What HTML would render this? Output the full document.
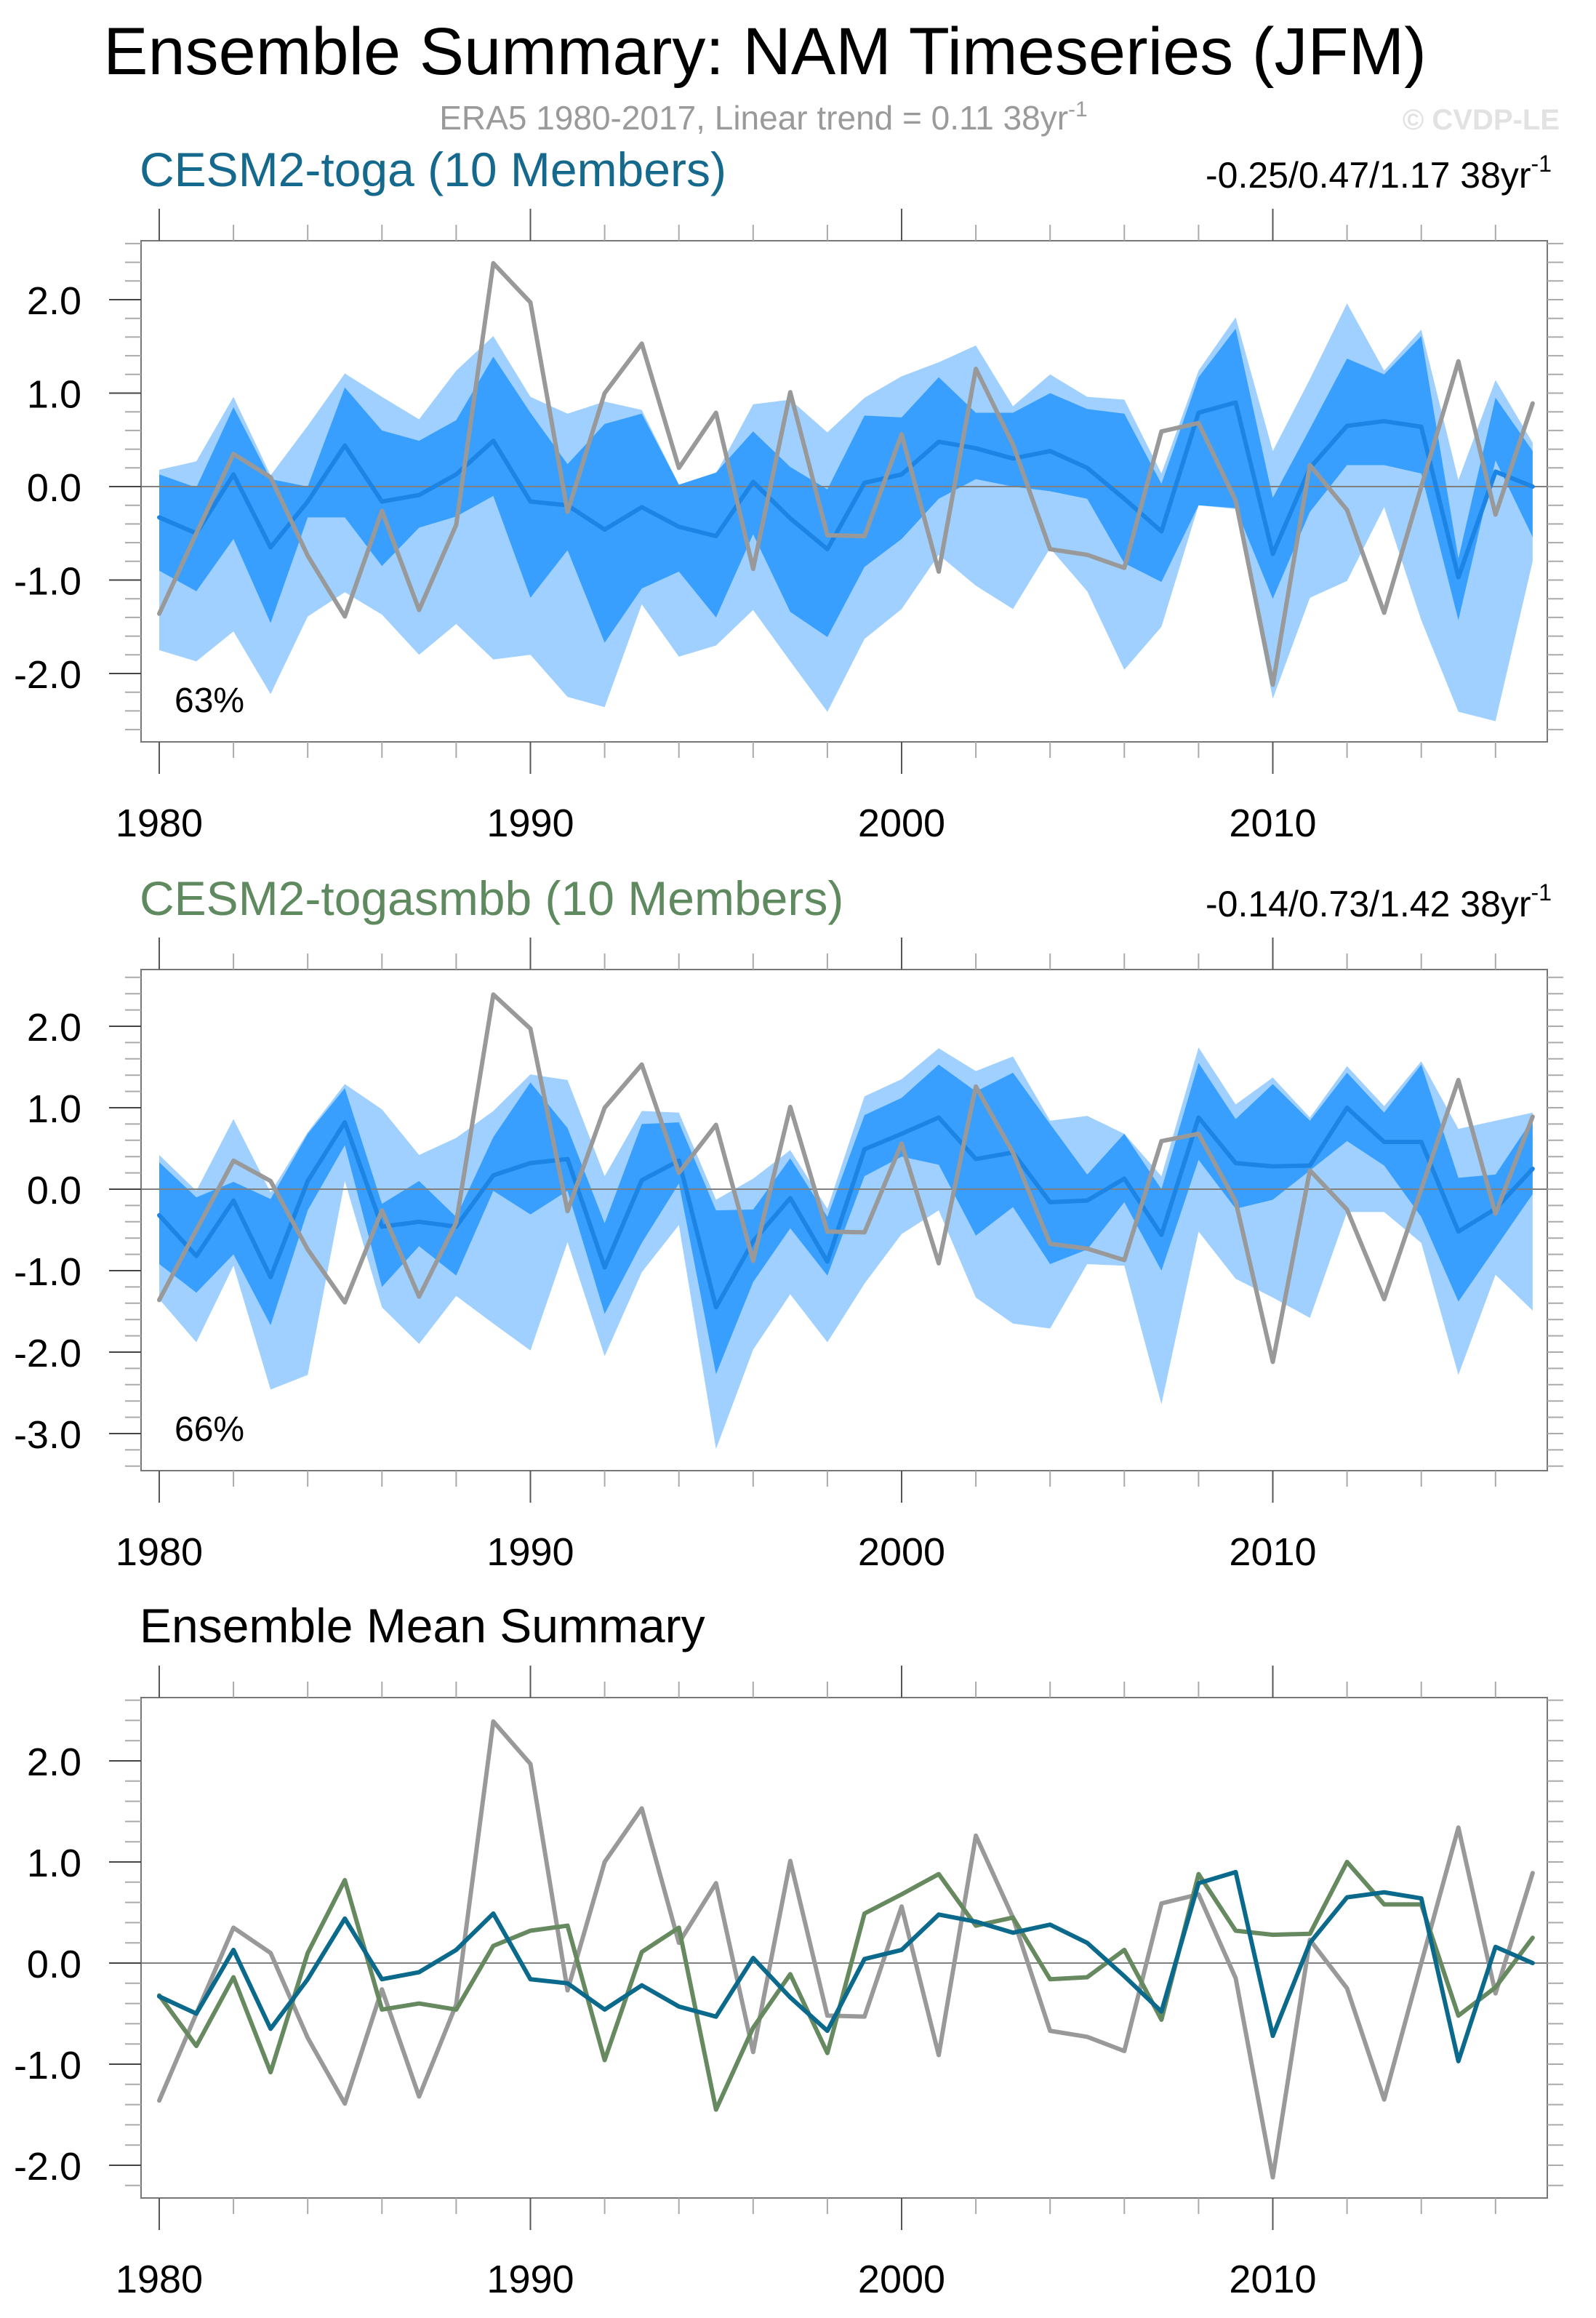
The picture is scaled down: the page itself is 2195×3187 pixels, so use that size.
<!DOCTYPE html>
<html><head><meta charset="utf-8"><style>
html,body{margin:0;padding:0;background:#fff;}
svg{display:block;font-family:"Liberation Sans",Arial,sans-serif;}
</style></head><body>
<svg id="fig" width="2195" height="3187" viewBox="0 0 2195 3187" xmlns="http://www.w3.org/2000/svg">
<text x="1052" y="102" font-size="92" text-anchor="middle" fill="#000">Ensemble Summary: NAM Timeseries (JFM)</text>
<text x="1050" y="178" font-size="46" text-anchor="middle" fill="#9a9a9a">ERA5 1980-2017, Linear trend = 0.11 38yr<tspan dy="-18" font-size="30">-1</tspan></text>
<text x="2145" y="178" font-size="40" font-weight="bold" text-anchor="end" fill="#e2e2e2">© CVDP-LE</text>
<text x="192" y="256" font-size="66" fill="#15698c">CESM2-toga (10 Members)</text>
<text x="2134" y="258" font-size="50" text-anchor="end" fill="#000">-0.25/0.47/1.17 38yr<tspan dy="-22" font-size="32">-1</tspan></text>
<text x="192" y="1258" font-size="66" fill="#5f8a5f">CESM2-togasmbb (10 Members)</text>
<text x="2134" y="1260" font-size="50" text-anchor="end" fill="#000">-0.14/0.73/1.42 38yr<tspan dy="-22" font-size="32">-1</tspan></text>
<text x="192" y="2258" font-size="66" fill="#000">Ensemble Mean Summary</text>
<g id="p1"></g>
<g id="p2"></g>
<g id="p3"></g>
</svg>
<script>
const years = Array.from({length:38},(_, i)=>1980+i);
const xTickLabels = ["1980","1990","2000","2010"];
const era5 = [-1.36,-0.50,0.35,0.10,-0.74,-1.39,-0.26,-1.32,-0.41,2.39,1.97,-0.27,1.00,1.53,0.20,0.79,-0.88,1.01,-0.52,-0.53,0.56,-0.91,1.26,0.45,-0.67,-0.73,-0.87,0.59,0.68,-0.15,-2.12,0.23,-0.25,-1.35,0.00,1.34,-0.30,0.89];
const togaMean = [-0.33,-0.50,0.13,-0.65,-0.16,0.44,-0.16,-0.09,0.13,0.49,-0.16,-0.20,-0.46,-0.22,-0.43,-0.53,0.05,-0.34,-0.67,0.04,0.13,0.48,0.41,0.30,0.38,0.20,-0.13,-0.48,0.79,0.90,-0.72,0.20,0.65,0.70,0.64,-0.97,0.16,0.00];
const togaDarkHi = [0.13,-0.01,0.85,0.08,0.00,1.06,0.60,0.49,0.71,1.39,0.79,0.24,0.67,0.78,0.02,0.15,0.59,0.21,-0.03,0.76,0.74,1.17,0.79,0.79,1.00,0.83,0.78,0.03,1.17,1.69,-0.12,0.62,1.37,1.20,1.61,-0.77,0.95,0.38];
const togaDarkLo = [-0.90,-1.12,-0.56,-1.46,-0.33,-0.33,-0.85,-0.44,-0.32,-0.10,-1.19,-0.68,-1.67,-1.09,-0.91,-1.40,-0.51,-1.34,-1.61,-0.86,-0.56,-0.13,0.08,0.00,-0.05,-0.13,-0.82,-1.02,-0.20,-0.23,-1.20,-0.27,0.23,0.23,0.14,-1.43,0.28,-0.54];
const togaLightHi = [0.18,0.27,0.96,0.12,0.65,1.21,0.96,0.72,1.24,1.61,0.96,0.78,0.91,0.82,0.02,0.14,0.88,0.93,0.58,0.95,1.18,1.33,1.51,0.86,1.20,0.96,0.93,0.14,1.24,1.81,0.38,1.15,1.96,1.24,1.68,0.07,1.14,0.47];
const togaLightLo = [-1.75,-1.87,-1.55,-2.22,-1.39,-1.13,-1.37,-1.80,-1.47,-1.85,-1.80,-2.25,-2.36,-1.26,-1.82,-1.70,-1.32,-1.87,-2.41,-1.63,-1.31,-0.73,-1.06,-1.31,-0.66,-1.12,-1.96,-1.50,-0.20,-0.24,-2.27,-1.19,-1.01,-0.22,-1.43,-2.41,-2.51,-0.80];
const smbbMean = [-0.32,-0.82,-0.14,-1.08,0.10,0.82,-0.46,-0.40,-0.46,0.17,0.32,0.37,-0.96,0.11,0.35,-1.45,-0.64,-0.11,-0.89,0.49,0.68,0.88,0.37,0.45,-0.16,-0.14,0.13,-0.56,0.88,0.32,0.28,0.29,1.00,0.58,0.58,-0.52,-0.24,0.25];
const smbbDarkHi = [0.33,-0.10,0.09,-0.12,0.68,1.24,-0.18,0.10,-0.34,0.64,1.31,0.75,-0.42,0.80,0.82,-0.26,-0.25,0.38,-0.34,0.91,1.12,1.53,1.20,1.43,0.80,0.18,0.68,0.00,1.55,0.86,1.29,0.84,1.43,0.94,1.53,0.14,0.18,0.86];
const smbbDarkLo = [-0.92,-1.27,-0.80,-1.67,-0.26,0.54,-1.20,-0.70,-1.06,-0.02,-0.31,-0.02,-1.53,-0.66,0.07,-2.27,-1.14,-0.48,-1.06,0.16,0.40,0.30,-0.57,-0.22,-0.92,-0.74,-0.16,-1.00,0.36,-0.24,-0.13,0.23,0.59,0.29,-0.34,-1.38,-0.72,-0.06];
const smbbLightHi = [0.42,-0.02,0.86,-0.04,0.70,1.29,0.98,0.42,0.63,0.96,1.41,1.34,0.16,0.96,0.94,-0.13,0.13,0.48,-0.24,1.14,1.35,1.73,1.45,1.63,0.84,0.90,0.68,0.16,1.74,1.04,1.37,0.88,1.51,1.02,1.57,0.74,0.84,0.94];
const smbbLightLo = [-1.35,-1.88,-0.94,-2.46,-2.28,0.10,-1.45,-1.90,-1.31,-1.65,-1.98,-0.65,-2.05,-1.02,-0.44,-3.19,-1.97,-1.29,-1.88,-1.16,-0.55,-0.26,-1.33,-1.65,-1.71,-0.92,-0.94,-2.64,-0.52,-1.10,-1.33,-1.58,-0.28,-0.28,-0.66,-2.28,-1.05,-1.49];
const p1YTicks = ["2.0","1.0","0.0","-1.0","-2.0"];
const p2YTicks = ["2.0","1.0","0.0","-1.0","-2.0","-3.0"];
const p3YTicks = ["2.0","1.0","0.0","-1.0","-2.0"];
const pctLabels = ["63%","66%"];

const NS="http://www.w3.org/2000/svg";
const BOX_L=194, BOX_R=2128, X0=219, XSTEP=51.05;
function xs(i){return X0+XSTEP*i;}
function mk(parent,tag,attrs){const e=document.createElementNS(NS,tag);for(const k in attrs)e.setAttribute(k,attrs[k]);parent.appendChild(e);return e;}

function panel(id,top,bottom,y0,unit,yTicks,opts){
  const g=document.getElementById(id);
  const ys=v=>y0-v*unit;
  const vTop=(y0-top)/unit, vBot=(y0-bottom)/unit;
  if(opts.bands){
    const b=opts.bands;
    const poly=(hi,lo,fill,name)=>{
      let pts=hi.map((v,i)=>xs(i)+","+ys(v));
      for(let i=lo.length-1;i>=0;i--)pts.push(xs(i)+","+ys(lo[i]));
      const p=mk(g,"polygon",{points:pts.join(" "),fill:fill});
      
      
    };
    poly(b.lightHi,b.lightLo,"#9fd0ff",id+"-range-band");
    poly(b.darkHi,b.darkLo,"#389fff",id+"-iqr-band");
  }
  const zl=mk(g,"line",{x1:BOX_L,x2:BOX_R,y1:ys(0),y2:ys(0),stroke:"#808080","stroke-width":2});
  
  
  opts.lines.forEach(L=>{
    const p=mk(g,"polyline",{points:L.data.map((v,i)=>xs(i)+","+ys(v)).join(" "),fill:"none",stroke:L.color,"stroke-width":L.w,"stroke-linejoin":"round","stroke-linecap":"round"});
    
    
  });
  const box=mk(g,"rect",{x:BOX_L,y:top,width:BOX_R-BOX_L,height:bottom-top,fill:"none",stroke:"#777","stroke-width":2});
  
  
  const start=Math.ceil(vBot*5-1e-6), end=Math.floor(vTop*5+1e-6);
  for(let k=start;k<=end;k++){
    const y=ys(k/5);
    const major=(k%5===0);
    const t1=mk(g,"line",{x1:major?150:172,x2:BOX_L,y1:y,y2:y,stroke:major?"#444":"#aaa","stroke-width":2});
    
    
    const t2=mk(g,"line",{x1:BOX_R,x2:BOX_R+22,y1:y,y2:y,stroke:"#aaa","stroke-width":2});
    
    
  }
  yTicks.forEach(s=>{
    const t=mk(g,"text",{x:112,y:ys(parseFloat(s))+20,"font-size":54,"text-anchor":"end",fill:"#000"});
    t.textContent=s;
    
    
  });
  for(let i=0;i<years.length;i+=2){
    const x=xs(i), major=(years[i]%10===0);
    const a=mk(g,"line",{x1:x,x2:x,y1:top-(major?44:22),y2:top,stroke:major?"#555":"#aaa","stroke-width":2});
    
    
    const b=mk(g,"line",{x1:x,x2:x,y1:bottom,y2:bottom+(major?44:22),stroke:major?"#555":"#aaa","stroke-width":2});
    
    
  }
  xTickLabels.forEach(s=>{
    const i=years.indexOf(parseInt(s));
    const t=mk(g,"text",{x:xs(i),y:bottom+130,"font-size":54,"text-anchor":"middle",fill:"#000"});
    t.textContent=s;
    
    
  });
  if(opts.pct){
    const t=mk(g,"text",{x:240,y:bottom-41,"font-size":48,fill:"#000"});
    t.textContent=opts.pct;
    
    
  }
}
panel("p1",331,1020,669,128.5,p1YTicks,{
  bands:{lightHi:togaLightHi,lightLo:togaLightLo,darkHi:togaDarkHi,darkLo:togaDarkLo},
  lines:[{data:togaMean,color:"#1b84e4",w:6,name:"toga-ensemble-mean-line"},{data:era5,color:"#999",w:6,name:"era5-line"}],
  pct:pctLabels[0]});
panel("p2",1333,2022,1635,112,p2YTicks,{
  bands:{lightHi:smbbLightHi,lightLo:smbbLightLo,darkHi:smbbDarkHi,darkLo:smbbDarkLo},
  lines:[{data:smbbMean,color:"#1b84e4",w:6,name:"togasmbb-ensemble-mean-line"},{data:era5,color:"#999",w:6,name:"era5-line"}],
  pct:pctLabels[1]});
panel("p3",2334,3022,2699,139,p3YTicks,{
  lines:[{data:era5,color:"#999",w:6,name:"era5-line"},{data:smbbMean,color:"#66895f",w:6,name:"togasmbb-mean-line"},{data:togaMean,color:"#0b6a8c",w:6,name:"toga-mean-line"}]});
</script>
</body></html>
